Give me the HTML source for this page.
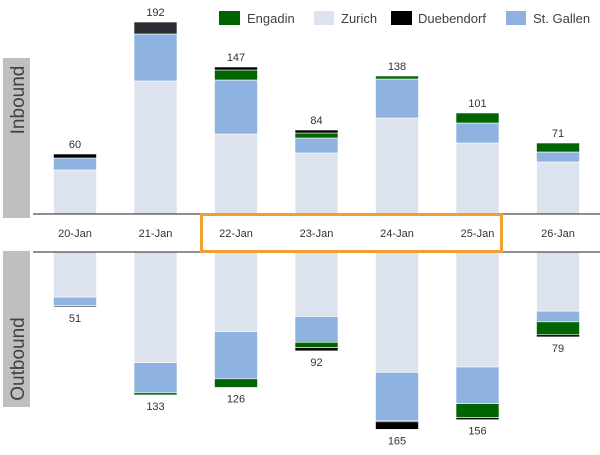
<!DOCTYPE html>
<html><head><meta charset="utf-8">
<style>
html,body{margin:0;padding:0;background:#fff;}
body{width:600px;height:450px;overflow:hidden;font-family:"Liberation Sans",sans-serif;}
</style></head>
<body>
<svg id="chart" width="600" height="450" xmlns="http://www.w3.org/2000/svg" style="font-family:'Liberation Sans',sans-serif">
  <rect x="3" y="58" width="27" height="160" fill="#bfbfbf"/>
  <text transform="translate(24,100) rotate(-90)" text-anchor="middle" font-size="19" fill="#404040">Inbound</text>
  <rect x="3" y="251" width="27" height="156" fill="#bfbfbf"/>
  <text transform="translate(24,359) rotate(-90)" text-anchor="middle" font-size="19" fill="#404040">Outbound</text>
  <g id="bars"></g>
  <line x1="33" y1="214" x2="600" y2="214" stroke="#222" stroke-width="1"/>
  <line x1="33" y1="252" x2="600" y2="252" stroke="#222" stroke-width="1"/>
  <g id="xlabels"></g>
  <rect x="201.5" y="214.5" width="300" height="37" fill="none" stroke="#f0a030" stroke-width="3"/>
  <g font-size="13" fill="#404040">
    <rect x="219" y="11" width="21" height="14" fill="#006400"/>
    <text x="247" y="23">Engadin</text>
    <rect x="314" y="11" width="20" height="14" fill="#dde3ee"/>
    <text x="341" y="23">Zurich</text>
    <rect x="391" y="11" width="21" height="14" fill="#000"/>
    <text x="418" y="23">Duebendorf</text>
    <rect x="506" y="11" width="20" height="14" fill="#8eb3e0"/>
    <text x="533" y="23">St. Gallen</text>
  </g>
</svg>
<script>
const categories = ["20-Jan","21-Jan","22-Jan","23-Jan","24-Jan","25-Jan","26-Jan"];
const inZurich = [44,133,80,61,96,71,52];
const inStGallen = [12,47,54,15,39,20,10];
const inEngadin = [0,0,10,5,3,10,9];
const inDuebendorf = [4,12,3,3,0,0,0];
const outZurich = [42,103,74,60,112,107,55];
const outStGallen = [8,28,44,24,45,34,10];
const outEngadin = [0,2,8,5,1,13,12];
const outDuebendorf = [1,0,0,3,7,2,2];

const svgNS = "http://www.w3.org/2000/svg";
const bars = document.getElementById('bars');
const xl = document.getElementById('xlabels');
function xCenter(i){ return 75 + i*80.5; }
const barW = 43;
function yIn(v){ return 214 - v*1.0; }
function yOut(v){ return 252 + v*1.075; }
const colors = ["#dde3ee","#8eb3e0","#006400","#000000"];
const names = ["zurich","stgallen","engadin","duebendorf"];
const inSeries = [inZurich,inStGallen,inEngadin,inDuebendorf];
const outSeries = [outZurich,outStGallen,outEngadin,outDuebendorf];

categories.forEach((c,i)=>{
  const x = xCenter(i) - barW/2;
  let cum = 0;
  inSeries.forEach((s,k)=>{
    const v = s[i]; if(!v) return;
    const r = document.createElementNS(svgNS,'rect');
    
    
    r.setAttribute('x', x); r.setAttribute('width', barW);
    r.setAttribute('y', yIn(cum+v)); r.setAttribute('height', yIn(cum)-yIn(cum+v));
    r.setAttribute('fill', k===3 && i===1 ? '#2b2e33' : colors[k]);
    r.setAttribute('stroke', '#fff'); r.setAttribute('stroke-width', '0.6');
    bars.appendChild(r);
    cum += v;
  });
  const t = document.createElementNS(svgNS,'text');
  
  
  t.setAttribute('x', xCenter(i)); t.setAttribute('y', yIn(cum)-6);
  t.setAttribute('text-anchor','middle'); t.setAttribute('font-size','11'); t.setAttribute('fill','#333');
  t.textContent = cum; bars.appendChild(t);

  let cumO = 0;
  outSeries.forEach((s,k)=>{
    const v = s[i]; if(!v) return;
    const r = document.createElementNS(svgNS,'rect');
    
    
    r.setAttribute('x', x); r.setAttribute('width', barW);
    r.setAttribute('y', yOut(cumO)); r.setAttribute('height', yOut(cumO+v)-yOut(cumO));
    r.setAttribute('fill', colors[k]);
    r.setAttribute('stroke', '#fff'); r.setAttribute('stroke-width', '0.6');
    bars.appendChild(r);
    cumO += v;
  });
  const t2 = document.createElementNS(svgNS,'text');
  
  
  t2.setAttribute('x', xCenter(i)); t2.setAttribute('y', yOut(cumO)+15);
  t2.setAttribute('text-anchor','middle'); t2.setAttribute('font-size','11'); t2.setAttribute('fill','#333');
  t2.textContent = cumO; bars.appendChild(t2);

  const lab = document.createElementNS(svgNS,'text');
  
  
  lab.setAttribute('x', xCenter(i)); lab.setAttribute('y', 237);
  lab.setAttribute('text-anchor','middle'); lab.setAttribute('font-size','11'); lab.setAttribute('fill','#333');
  lab.textContent = c; xl.appendChild(lab);
});
</script>
</body></html>
